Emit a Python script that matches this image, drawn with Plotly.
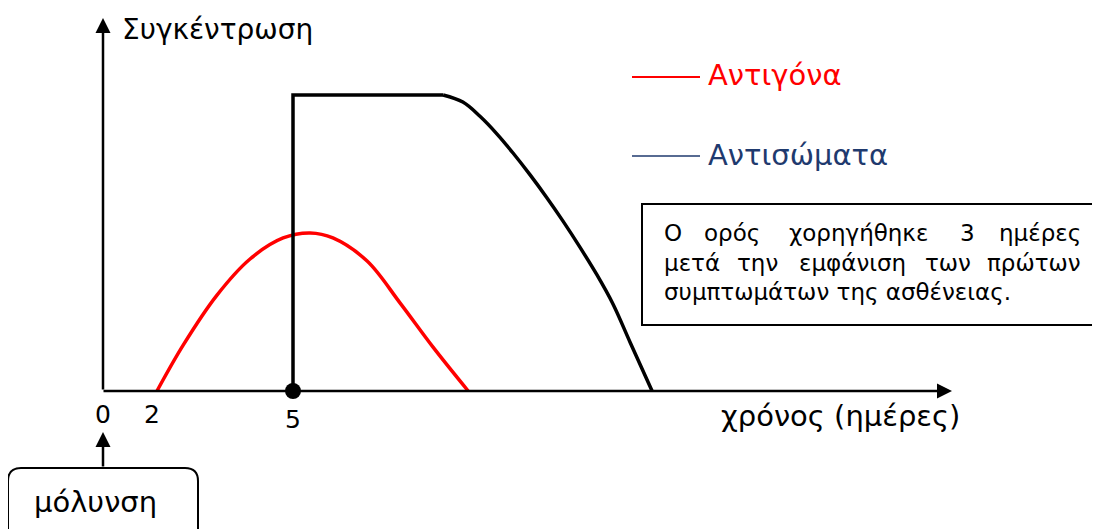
import plotly.graph_objects as go

# ---------------- data (schematic units: days, arbitrary concentration) ----------------
antigen_days = [1.42, 2.11, 3.0, 3.87, 4.74, 5.45, 6.05, 6.95, 7.82, 8.68, 9.61]
antigen_conc = [0, 15.5, 32.4, 44.6, 51.7, 53.4, 51.7, 43.9, 29.7, 14.9, 0]

antibody_step_days = [5, 5, 8.95]
antibody_step_conc = [0, 100, 100]
antibody_fall_days = [8.95, 9.47, 9.92, 10.37, 10.79, 11.24, 11.68, 12.11, 12.55, 13.0, 13.42, 13.87, 14.45]
antibody_fall_conc = [100, 97.6, 92.8, 86.8, 80.4, 73.0, 65.3, 57.3, 48.6, 39.2, 29.4, 16.5, 0]

serum_day = [5]
serum_conc = [0]

tick_pos = [0, 1.29, 5]
tick_text = ["0", "2", "5"]

series_names = ["Αντιγόνα", "Αντισώματα"]
y_title = "Συγκέντρωση"
x_title = "χρόνος (ημέρες)"
infection_label = "μόλυνση"
note_lines = [
    ["Ο", "ορός", "χορηγήθηκε", "3", "ημέρες"],
    ["μετά", "την", "εμφάνιση", "των", "πρώτων"],
    ["συμπτωμάτων της ασθένειας."],
]

# ---------------- layout helpers (positions given in window pixels) ----------------
OFF = 8                      # page body margin
W, H = 1100 - OFF, 529 - OFF
X0, PXD = 103, 38.0          # window pixel of day 0, pixels per day
Y0, PXC = 391, 2.96          # window pixel of conc 0, pixels per conc unit
FONT = "DejaVu Sans"
RED = "#ff0000"
NAVY = "#1f3a6e"


def px(xp):
    return (xp - OFF) / W


def py(yp):
    return 1 - (yp - OFF) / H


def arrow(tip, tail):
    return dict(xref="paper", yref="paper", x=px(tip[0]), y=py(tip[1]),
                axref="pixel", ayref="pixel", ax=tail[0] - tip[0], ay=tail[1] - tip[1],
                text="", showarrow=True, arrowhead=2, arrowsize=1.2, arrowwidth=2.5,
                arrowcolor="black", standoff=0)


def label(x, y, text, size, color="black", xanchor="left"):
    return dict(xref="paper", yref="paper", x=px(x), y=py(y), text=text,
                showarrow=False, xanchor=xanchor, yanchor="middle",
                font=dict(family=FONT, size=size, color=color))


fig = go.Figure()

fig.add_trace(go.Scatter(x=antigen_days, y=antigen_conc, mode="lines",
                         line=dict(color=RED, width=3.5, shape="spline", smoothing=1.0),
                         name=series_names[0], showlegend=False, hoverinfo="skip"))
fig.add_trace(go.Scatter(x=antibody_step_days, y=antibody_step_conc, mode="lines",
                         line=dict(color="black", width=3.5),
                         name=series_names[1], showlegend=False, hoverinfo="skip"))
fig.add_trace(go.Scatter(x=antibody_fall_days, y=antibody_fall_conc, mode="lines",
                         line=dict(color="black", width=3.5, shape="spline", smoothing=1.0),
                         name=series_names[1], showlegend=False, hoverinfo="skip"))
fig.add_trace(go.Scatter(x=serum_day, y=serum_conc, mode="markers",
                         marker=dict(color="black", size=16), showlegend=False, hoverinfo="skip"))

annotations = []
shapes = []

# axes with arrows
annotations.append(arrow((X0, 18), (X0, Y0)))
annotations.append(arrow((952, Y0), (X0 - 1, Y0)))

# axis titles
annotations.append(label(120, 29, y_title, 28))
annotations.append(label(962, 416, x_title, 29, xanchor="right"))

# tick labels
tick_y = [414, 414, 419]
for pos, txt, ty in zip(tick_pos, tick_text, tick_y):
    annotations.append(dict(xref="x", yref="paper", x=pos, y=py(ty), text=txt,
                            showarrow=False, xanchor="center", yanchor="middle",
                            font=dict(family=FONT, size=25, color="black")))

# legend-like labels
shapes.append(dict(type="line", xref="paper", yref="paper", x0=px(632), x1=px(700),
                   y0=py(77), y1=py(77), line=dict(color=RED, width=2)))
annotations.append(label(706, 75, series_names[0], 29, RED))
shapes.append(dict(type="line", xref="paper", yref="paper", x0=px(632), x1=px(700),
                   y0=py(156), y1=py(156), line=dict(color=NAVY, width=1.5)))
annotations.append(label(706, 155, series_names[1], 29, NAVY))

# note box with justified first two lines (word by word)
shapes.append(dict(type="rect", xref="paper", yref="paper", x0=px(642), x1=px(1099),
                   y0=py(204), y1=py(325), line=dict(color="black", width=2),
                   fillcolor="white", layer="above"))
NOTE_SIZE = 23
TXT_L, TXT_R = 662, 1083
approx_word_w = [            # approximate rendered word widths (px) at NOTE_SIZE
    [18, 50, 150, 14, 82],
    [50, 40, 100, 40, 90],
    None,
]
line_y = [233, 263, 292]
for words, ws, ly in zip(note_lines, approx_word_w, line_y):
    if ws is None:
        annotations.append(label(TXT_L, ly, " ".join(words), NOTE_SIZE))
        continue
    n = len(words)
    gap = (TXT_R - TXT_L - sum(ws)) / (n - 1)
    cur = TXT_L
    for i, (w, ww) in enumerate(zip(words, ws)):
        if i == 0:
            annotations.append(label(TXT_L, ly, w, NOTE_SIZE, xanchor="left"))
        elif i == n - 1:
            annotations.append(label(TXT_R, ly, w, NOTE_SIZE, xanchor="right"))
        else:
            annotations.append(label(cur + ww / 2, ly, w, NOTE_SIZE, xanchor="center"))
        cur += ww + gap

# infection box (rounded, bottom cut off)
x_l, x_r, y_t, r = 8, 198, 468, 13
path = (f"M {px(x_l)},{py(540)} L {px(x_l)},{py(y_t + r)} "
        f"Q {px(x_l)},{py(y_t)} {px(x_l + r)},{py(y_t)} "
        f"L {px(x_r - r)},{py(y_t)} Q {px(x_r)},{py(y_t)} {px(x_r)},{py(y_t + r)} "
        f"L {px(x_r)},{py(540)}")
shapes.append(dict(type="path", xref="paper", yref="paper", path=path,
                   line=dict(color="black", width=2)))
annotations.append(label(95, 502, infection_label, 29, xanchor="center"))
annotations.append(arrow((X0, 432), (X0, y_t)))

fig.update_layout(
    width=W, height=H,
    margin=dict(l=0, r=0, t=0, b=0, pad=0),
    paper_bgcolor="white", plot_bgcolor="white",
    xaxis=dict(range=[(OFF - X0) / PXD, (W + OFF - X0) / PXD], visible=False, fixedrange=True),
    yaxis=dict(range=[(Y0 - (H + OFF)) / PXC, (Y0 - OFF) / PXC], visible=False, fixedrange=True),
    annotations=annotations,
    shapes=shapes,
    showlegend=False,
)

fig.write_html("out.html")
